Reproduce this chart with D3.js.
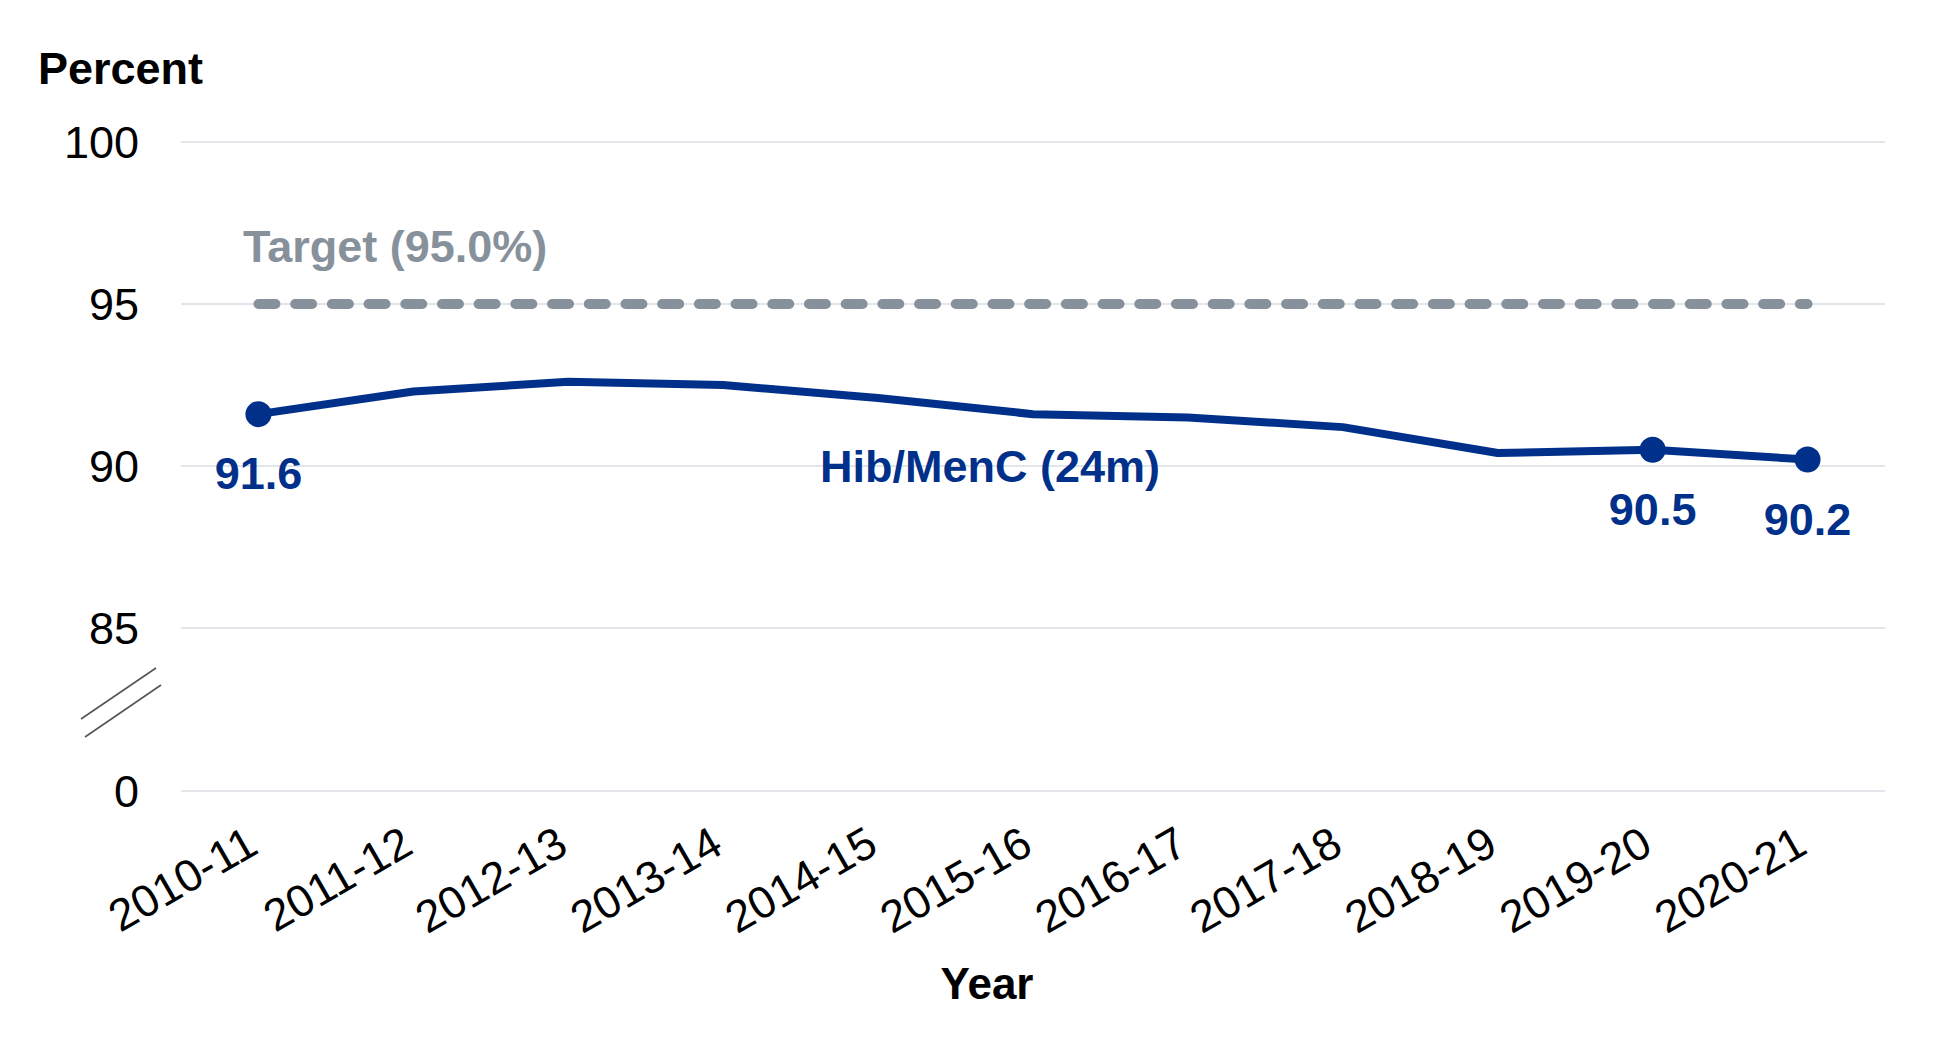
<!DOCTYPE html>
<html>
<head>
<meta charset="utf-8">
<script src="https://cdn.jsdelivr.net/npm/d3@7"></script>
<style>
  html, body { margin: 0; padding: 0; background: #fff; }
  svg { display: block; }
  text { font-family: "Liberation Sans", Arial, sans-serif; }
</style>
</head>
<body>
<svg id="chart" width="1950" height="1038"></svg>
<script>
// ---- Data ----
const categories = ["2010-11","2011-12","2012-13","2013-14","2014-15","2015-16","2016-17","2017-18","2018-19","2019-20","2020-21"];
const hibMenC = [91.6, 92.3, 92.6, 92.5, 92.1, 91.6, 91.5, 91.2, 90.4, 90.5, 90.2];
const labelled = ["2010-11", "2019-20", "2020-21"];
const target = 95.0;
const yTicks = [0, 85, 90, 95, 100];
const seriesName = "Hib/MenC (24m)";
const targetName = "Target (95.0%)";

// ---- Layout ----
const svg = d3.select("#chart");
const plotLeft = 181, plotRight = 1885;
const blue = "#00308A", grey = "#87919B", gridCol = "#D9DEE3";
const font = 45, tickFont = 45;

const x = d3.scalePoint().domain(categories).range([plotLeft, plotRight]).padding(0.5);
// broken axis: 0 then 85..100
const y = d3.scaleLinear().domain([0, 85, 100]).range([791, 628, 142]);

// Gridlines
svg.append("g").selectAll("line").data(yTicks).join("line")
  .attr("x1", plotLeft).attr("x2", plotRight)
  .attr("y1", d => y(d)).attr("y2", d => y(d))
  .attr("stroke", gridCol).attr("stroke-width", 1.5);

// Y axis tick labels
const yAxis = d3.axisLeft(y).tickValues(yTicks).tickSize(0).tickPadding(0);
const gy = svg.append("g").attr("transform", "translate(139,0)").call(yAxis);
gy.select(".domain").remove();
gy.selectAll("text")
  .attr("font-size", tickFont).attr("fill", "#000")
  .style("font-family", '"Liberation Sans", Arial, sans-serif')
  .attr("dy", "0.35em");

// Axis break marks
const brk = svg.append("g").attr("stroke", "#555").attr("stroke-width", 1.6);
brk.append("line").attr("x1", 81).attr("y1", 719).attr("x2", 156).attr("y2", 668);
brk.append("line").attr("x1", 85).attr("y1", 737).attr("x2", 161).attr("y2", 685);

// X axis labels (rotated)
const xAxis = d3.axisBottom(x).tickSize(0).tickPadding(0);
const gx = svg.append("g").call(xAxis);
gx.select(".domain").remove();
gx.selectAll(".tick").attr("transform", d => `translate(${x(d) + 2},852)`);
gx.selectAll("text")
  .attr("font-size", tickFont).attr("fill", "#000")
  .style("font-family", '"Liberation Sans", Arial, sans-serif')
  .attr("y", 0).attr("dy", 0)
  .attr("text-anchor", "end")
  .attr("transform", "rotate(-30)");

// Target line
svg.append("line")
  .attr("x1", x(categories[0])).attr("x2", x(categories[categories.length - 1]))
  .attr("y1", y(target)).attr("y2", y(target))
  .attr("stroke", grey).attr("stroke-width", 10)
  .attr("stroke-linecap", "round").attr("stroke-dasharray", "17 19.7");

svg.append("text")
  .attr("x", 243).attr("y", 262)
  .attr("font-size", font).attr("font-weight", "bold").attr("fill", grey)
  .text(targetName);

// Series line
const data = categories.map((c, i) => ({ c, v: hibMenC[i] }));
svg.append("path").datum(data)
  .attr("fill", "none").attr("stroke", blue).attr("stroke-width", 8)
  .attr("stroke-linejoin", "round")
  .attr("d", d3.line().x(d => x(d.c)).y(d => y(d.v)));

const lab = data.filter(d => labelled.includes(d.c));
svg.append("g").selectAll("circle").data(lab).join("circle")
  .attr("cx", d => x(d.c)).attr("cy", d => y(d.v)).attr("r", 13).attr("fill", blue);

svg.append("g").selectAll("text").data(lab).join("text")
  .attr("x", d => x(d.c)).attr("y", d => y(d.v) + 75)
  .attr("text-anchor", "middle")
  .attr("font-size", font).attr("font-weight", "bold").attr("fill", blue)
  .text(d => d.v.toFixed(1));

// Series name label
svg.append("text")
  .attr("x", 990).attr("y", 482).attr("text-anchor", "middle")
  .attr("font-size", font).attr("font-weight", "bold").attr("fill", blue)
  .text(seriesName);

// Axis titles
svg.append("text")
  .attr("x", 38).attr("y", 84)
  .attr("font-size", font).attr("font-weight", "bold").attr("fill", "#000")
  .text("Percent");

svg.append("text")
  .attr("x", 987).attr("y", 999).attr("text-anchor", "middle")
  .attr("font-size", 44).attr("font-weight", "bold").attr("fill", "#000")
  .text("Year");
</script>
</body>
</html>
